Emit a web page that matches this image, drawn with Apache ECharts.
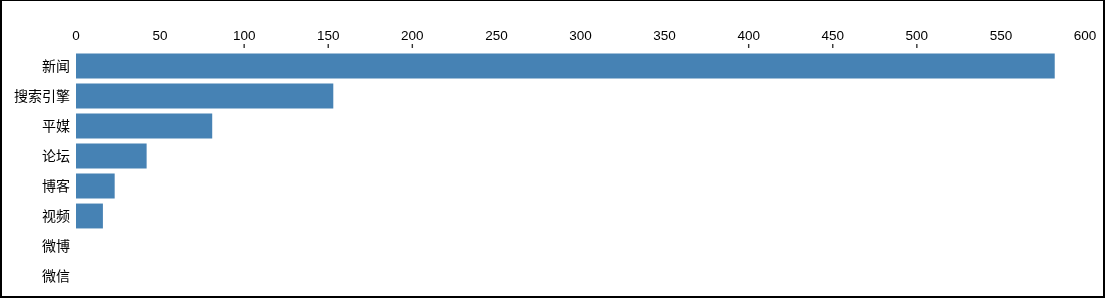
<!DOCTYPE html>
<html>
<head>
<meta charset="utf-8">
<script src="https://cdn.jsdelivr.net/npm/echarts@6/dist/echarts.min.js"></script>
<style>
html,body{margin:0;padding:0;background:#fff;}
#chart{position:absolute;left:0;top:0;width:1105px;height:298px;}
#frame{position:absolute;left:0;top:0;width:1105px;height:298px;box-sizing:border-box;border-style:solid;border-color:#000;border-width:1px 2px 2px 2px;pointer-events:none;}
</style>
</head>
<body>
<div id="chart"></div>
<div id="frame"></div>
<script>
const categories = ['新闻', '搜索引擎', '平媒', '论坛', '博客', '视频', '微博', '微信'];
const values = [582, 153, 81, 42, 23, 16, 0, 0];
const tickLabels = [0, 50, 100, 150, 200, 250, 300, 350, 400, 450, 500, 550, 600];
const tickMarksShown = [100, 150, 200, 400, 450, 500];

const GRID_TOP = 51, GRID_H = 240;
const TICK_Y = -5;   // tick centre, pixels above the plot top (via a 1:1 helper axis)

const chart = echarts.init(document.getElementById('chart'));
const fontCJK = '"Noto Sans CJK SC", "Liberation Sans", sans-serif';
const fontNum = '"Liberation Sans", Arial, sans-serif';

chart.setOption({
  animation: false,
  backgroundColor: '#fff',
  grid: { left: 76, right: 20, top: GRID_TOP, height: GRID_H },
  xAxis: {
    type: 'value',
    position: 'top',
    min: tickLabels[0],
    max: tickLabels[tickLabels.length - 1],
    interval: 50,
    axisLine: { show: false },
    axisTick: { show: false },
    splitLine: { show: false },
    axisLabel: { color: '#000', fontSize: 13.5, fontFamily: fontNum, margin: 8 }
  },
  yAxis: [
    {
      type: 'category',
      inverse: true,
      data: categories,
      axisLine: { show: false },
      axisTick: { show: false },
      splitLine: { show: false },
      axisLabel: { color: '#000', fontSize: 14, fontFamily: fontCJK, margin: 6 }
    },
    {
      type: 'value',
      show: false,
      inverse: true,
      min: 0,
      max: GRID_H
    }
  ],
  series: [
    {
      type: 'bar',
      yAxisIndex: 0,
      data: values,
      barCategoryGap: '17%',
      itemStyle: { color: '#4682B4' }
    },
    {
      type: 'scatter',
      yAxisIndex: 1,
      clip: false,
      silent: true,
      symbol: 'rect',
      symbolSize: [1.4, 4],
      itemStyle: { color: '#000' },
      data: tickMarksShown.map(v => [v, TICK_Y])
    }
  ]
});
</script>
</body>
</html>
